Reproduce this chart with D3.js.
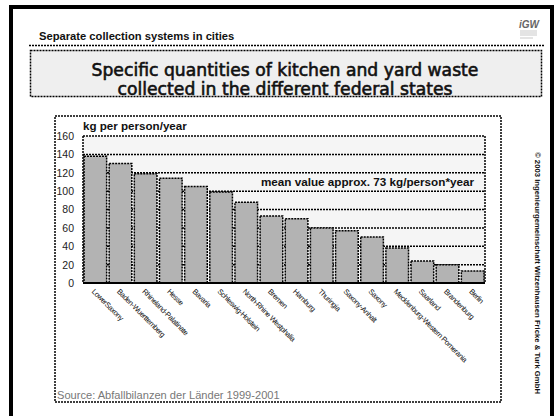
<!DOCTYPE html>
<html><head><meta charset="utf-8">
<script src="https://cdn.jsdelivr.net/npm/d3@7/dist/d3.min.js"></script>
<style>
html,body{margin:0;padding:0;background:#fff;}
svg{display:block;font-family:"Liberation Sans",Arial,sans-serif;}
</style></head>
<body>
<svg id="c" width="556" height="416"></svg>
<script>
const categories = ["LowerSaxony","Baden-Wuerttemberg","Rhineland-Palatinate","Hesse","Bavaria","Schleswig-Holstein","North-Rhine Westphalia","Bremen","Hamburg","Thuringia","Saxony-Anhalt","Saxony","Mecklenburg-Western Pomerania","Saarland","Brandenburg","Berlin"];
const values = [138,130,119,114,105,99,88,73,70,60,57,50,38,24,20,13];
const yTicks = [0,20,40,60,80,100,120,140,160];
const titleLines = ["Specific quantities of kitchen and yard waste","collected in the different federal states"];

const svg = d3.select("#c");

// outer black frame
svg.append("rect").attr("x",0).attr("y",0).attr("width",556).attr("height",416).attr("fill","#fff");
svg.append("path").attr("d","M11,420 V7 H552 V420").attr("fill","none").attr("stroke","#000").attr("stroke-width",4);

// header
svg.append("text").attr("x",39).attr("y",40).attr("font-size",11.2).attr("font-weight","bold").attr("fill","#111")
  .text("Separate collection systems in cities");
svg.append("line").attr("x1",29).attr("x2",545).attr("y1",45.5).attr("y2",45.5)
  .attr("stroke","#000").attr("stroke-width",1.5).attr("stroke-dasharray","2,1");

// logo
const lg = svg.append("g");
lg.append("text").attr("x",519).attr("y",28).attr("font-size",10).attr("font-weight","bold").attr("font-style","italic").attr("fill","#666").text("iGW");
[31,33,35,38].forEach((yy,i)=>lg.append("line").attr("x1",520).attr("x2",i==3?533:537).attr("y1",yy).attr("y2",yy).attr("stroke","#bbb").attr("stroke-width",0.8));

// title box
svg.append("rect").attr("x",30.5).attr("y",50.5).attr("width",511).attr("height",46).attr("fill","#efefef")
  .attr("stroke","#000").attr("stroke-width",1.5).attr("stroke-dasharray","2,1");
svg.selectAll("text.title").data(titleLines).join("text").attr("class","title")
  .attr("x",285).attr("y",(d,i)=>76+i*19).attr("text-anchor","middle")
  .attr("font-family","'DejaVu Sans',Verdana,sans-serif").attr("font-size",17.2).attr("fill","#111")
  .attr("stroke","#111").attr("stroke-width",0.6)
  .text(d=>d);

// chart frame
svg.append("rect").attr("x",55).attr("y",116).attr("width",446).attr("height",286).attr("fill","#fff")
  .attr("stroke","#000").attr("stroke-width",1.5).attr("stroke-dasharray","2,1");

const L=83, R=485, T=136, B=283;
const x = d3.scaleBand().domain(categories).range([L,R]).paddingInner(0.1).paddingOuter(0.04);
const y = d3.scaleLinear().domain([0,160]).range([B,T]);

// plot background
svg.append("rect").attr("x",L).attr("y",T).attr("width",R-L).attr("height",B-T).attr("fill","#f5f5f5");

// gridlines
svg.selectAll("line.grid").data(yTicks).join("line").attr("class","grid")
  .attr("x1",L).attr("x2",R).attr("y1",d=>y(d)).attr("y2",d=>y(d))
  .attr("stroke","#000").attr("stroke-width",1.5).attr("stroke-dasharray","2,1");
svg.append("line").attr("x1",L).attr("x2",L).attr("y1",T).attr("y2",B).attr("stroke","#000").attr("stroke-width",1.5).attr("stroke-dasharray","2,1");
svg.append("line").attr("x1",R).attr("x2",R).attr("y1",T).attr("y2",B).attr("stroke","#000").attr("stroke-width",1.5).attr("stroke-dasharray","2,1");

// y axis
const yAxis = d3.axisLeft(y).tickValues(yTicks).tickSize(0).tickPadding(9);
const ya = svg.append("g").attr("transform",`translate(${L},0)`).call(yAxis);
ya.select(".domain").remove();
ya.selectAll("text").attr("font-size",10.5).attr("fill","#222").attr("font-family","'Liberation Sans',Arial,sans-serif");

// bars
svg.selectAll("rect.bar").data(values).join("rect").attr("class","bar")
  .attr("x",(d,i)=>x(categories[i])).attr("width",x.bandwidth())
  .attr("y",d=>y(d)).attr("height",d=>B-y(d))
  .attr("fill","#b3b3b3").attr("stroke","#000").attr("stroke-width",1.5).attr("stroke-dasharray","2,1");

// baseline
svg.append("line").attr("x1",L).attr("x2",R).attr("y1",B).attr("y2",B).attr("stroke","#000").attr("stroke-width",2);

// category labels
svg.selectAll("text.cat").data(categories).join("text").attr("class","cat")
  .attr("transform",d=>`translate(${x(d)+x.bandwidth()/2-4},${B+9}) rotate(45)`)
  .attr("font-family","'Liberation Sans Narrow','Liberation Sans',Arial,sans-serif")
  .attr("font-size",7.5).attr("letter-spacing",-0.4).attr("fill","#111")
  .text(d=>d);

// y unit label
svg.append("text").attr("x",83).attr("y",130).attr("font-size",11.6).attr("font-weight","bold").attr("fill","#111").text("kg per person/year");
// mean label
svg.append("text").attr("x",474).attr("y",186).attr("text-anchor","end").attr("font-size",11.7).attr("font-weight","bold").attr("fill","#111")
  .text("mean value approx. 73 kg/person*year");

// source
svg.append("text").attr("x",57).attr("y",399).attr("font-size",11.1).attr("fill","#777").text("Source: Abfallbilanzen der Länder 1999-2001");

// copyright
svg.append("text").attr("transform","translate(535,152) rotate(90)").attr("font-size",7.6).attr("font-weight","bold").attr("fill","#111")
  .attr("textLength",242).attr("lengthAdjust","spacingAndGlyphs")
  .text("© 2003 Ingenieurgemeinschaft Witzenhausen Fricke & Turk GmbH");
</script>
</body></html>
